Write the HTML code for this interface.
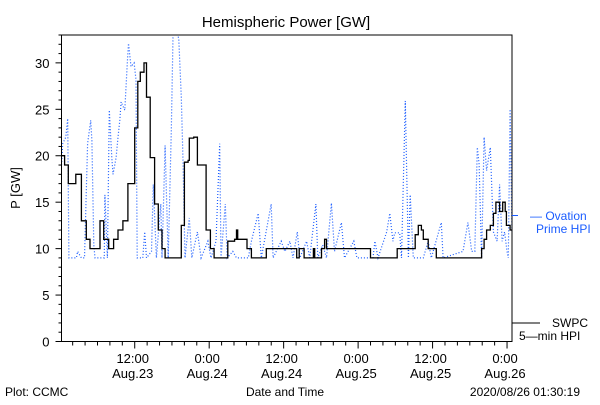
<!DOCTYPE html>
<html><head><meta charset="utf-8"><style>
html,body{margin:0;padding:0;background:#fff;}
svg text{font-family:"Liberation Sans",sans-serif;}
</style></head><body>
<svg id="chart" width="600" height="400" xmlns="http://www.w3.org/2000/svg">
<rect x="0" y="0" width="600" height="400" fill="#fff"/>
<text x="286" y="27" font-size="15" text-anchor="middle">Hemispheric Power [GW]</text>
<text transform="translate(20,188) rotate(-90)" font-size="13" text-anchor="middle">P [GW]</text>
<text x="285" y="396" font-size="12" text-anchor="middle">Date and Time</text>
<text x="5" y="396" font-size="12">Plot: CCMC</text>
<text x="580" y="396" font-size="12" text-anchor="end">2020/08/26 01:30:19</text>
<g id="series"></g>
<g id="axes"></g>
<line x1="512" y1="215.5" x2="518" y2="215.5" stroke="#1a5cff" stroke-width="1"/>
<text x="530" y="220" font-size="12" fill="#1a5cff">— Ovation</text>
<text x="536" y="233" font-size="12" fill="#1a5cff">Prime HPI</text>
<line x1="512" y1="323" x2="540" y2="323" stroke="#000" stroke-width="1"/>
<text x="552" y="327" font-size="12">SWPC</text>
<text x="519" y="340" font-size="12">5—min HPI</text>
</svg>
<script>
const swpcHours=[0.2,0.7,1.3,2.5,2.8,3.4,4.2,4.8,6.1,6.4,7.0,7.8,8.6,9.3,10.1,10.9,12.0,12.5,12.9,13.2,13.5,13.9,14.5,15.2,15.8,16.4,16.9,19.0,19.5,20.0,20.6,20.8,21.5,22.1,22.6,23.5,24.2,24.8,26.8,27.0,28.1,28.4,28.6,29.4,30.1,30.8,32.9,33.2,36.2,37.8,38.1,38.5,39.2,39.3,40.6,40.8,41.0,41.8,42.1,42.6,42.9,49.9,50.0,54.2,54.3,56.9,57.2,57.7,58.2,58.5,59.1,59.3,60.3,60.6,67.6,67.9,68.3,68.7,69.3,69.8,70.2,70.6,70.8,71.3,71.7,71.9,72.5,72.8];
const swpcValues=[20,19,17,18,18,13,11,10,10,13,11,10,11,12,13,17,23,28,29,29,30,26.3,19.8,14.8,12,10,9,9,12.5,19.3,19.5,21.9,22,19,19,12,10,9,9,10.8,11,12,11,11,10,9,9,10,10,10,9,10,10,9,9,10,9,9,10,11,10,10,9,9,10,10,11.5,12.5,12,11,11,10,10,9,9,10,11,12,12.5,13.8,15,15,14,15,14,12.5,12,12];
const ovationHours=[0.2,0.4,0.9,1.2,1.4,2.6,2.8,3.4,3.9,4.4,4.9,5.1,5.4,5.6,7.1,7.2,7.6,7.9,8.3,8.5,9.0,9.3,9.6,9.8,10.4,10.8,11.0,11.4,11.9,12.2,12.4,13.3,13.6,13.9,14.7,15.0,15.5,16.2,16.4,16.9,17.4,17.9,18.2,18.7,19.1,19.5,19.8,20.1,20.8,21.2,22.1,22.7,23.8,24.3,25.1,25.7,25.9,26.6,26.9,27.8,28.4,30.3,30.8,31.9,32.4,34.0,34.3,35.6,36.2,37.0,37.5,38.2,38.6,39.7,40.2,41.2,41.5,42.3,42.9,43.7,44.2,45.3,45.8,47.3,47.8,50.4,50.7,51.2,52.6,53.1,53.6,53.9,54.7,55.0,55.6,56.1,56.4,56.9,58.5,59.3,59.8,61.4,61.7,64.9,65.7,66.3,66.8,67.2,67.5,67.9,68.3,68.7,69.3,69.8,70.4,70.8,71.2,71.6,72.0,72.2,72.5,72.8];
const ovationValues=[19,21.3,22,24,9,9,9.7,9,9,21.3,23.8,21.6,10.4,9,9,15.8,9,24.9,19.8,18,19.8,22,23.8,25.8,24.9,30,32.1,29.6,30,28.2,9,9,11.8,9,9.7,16.9,9,14.8,9,21.1,9,22.7,34,34,32.5,26.3,19.1,9,13.3,9,11.8,9,10.8,9,10.8,21.3,9,14.8,9,9.7,9,9,10.8,13.8,9,14.8,9,10.8,9.7,10.8,9,11.8,9,10.8,9,14.8,9,10.4,9,14.9,9.7,12.8,9,10.8,9,9,10.8,9,11.8,13.8,10.8,11.7,11.7,9,25.9,9,15.8,9,9,10.8,9,12.8,9,9.7,12.8,9.7,9.7,20.9,19.1,9,22,18.4,20.9,11.8,10.8,16.9,10.8,11.8,9.7,9,25,11.8];
const yTickLabels=["0","5","10","15","20","25","30"];
const xTickHours=[12,24,36,48,60,72];
const xTickTimes=["12:00","0:00","12:00","0:00","12:00","0:00"];
const xTickDates=["Aug.23","Aug.24","Aug.24","Aug.25","Aug.25","Aug.26"];

const NS="http://www.w3.org/2000/svg";
const L=61.5,R=512,T=35,B=341.5,XMIN=0.2,XMAX=72.8,YMIN=0,YMAX=33;
function xs(h){return L+(h-XMIN)/(XMAX-XMIN)*(R-L);}
function ys(v){return B-(v-YMIN)/(YMAX-YMIN)*(B-T);}
function mk(tag,attrs,parent){const e=document.createElementNS(NS,tag);for(const k in attrs)e.setAttribute(k,attrs[k]);parent.appendChild(e);return e;}
const series=document.getElementById('series');
const axes=document.getElementById('axes');
const clip=mk('clipPath',{id:'pc'},series);
mk('rect',{x:L,y:T,width:R-L,height:B-T},clip);

// ovation dotted
let pts=ovationHours.map((h,i)=>xs(h).toFixed(1)+','+ys(Math.min(ovationValues[i],YMAX+1)).toFixed(1)).join(' ');
const ov=mk('polyline',{points:pts,fill:'none',stroke:'#1a5cff','stroke-width':1.2,'stroke-dasharray':'1 2','clip-path':'url(#pc)'},series);



// swpc step line
let sp=[];
for(let i=0;i<swpcHours.length;i++){
  if(i>0) sp.push(xs(swpcHours[i]).toFixed(1)+','+ys(swpcValues[i-1]).toFixed(1));
  sp.push(xs(swpcHours[i]).toFixed(1)+','+ys(swpcValues[i]).toFixed(1));
}
const sw=mk('polyline',{points:sp.join(' '),fill:'none',stroke:'#000','stroke-width':1.3,'clip-path':'url(#pc)'},series);



// frame
const fr=mk('rect',{x:L,y:T,width:R-L,height:B-T,fill:'none',stroke:'#000','stroke-width':1},axes);



// y ticks
for(let v=0;v<=YMAX;v++){
  const y=ys(v);const major=v%5===0;
  const t=mk('line',{x1:L-(major?6:3),y1:y,x2:L,y2:y,stroke:'#000'},axes);
  
  
}
yTickLabels.forEach(s=>{
  const tx=mk('text',{x:L-12,y:ys(+s)+5,'font-size':13,'text-anchor':'end'},axes);
  tx.textContent=s;
  
  
});
// x ticks every 2h
for(let h=2;h<=XMAX;h+=2){
  const x=xs(h);const major=h%12===0;
  const t=mk('line',{x1:x,y1:B,x2:x,y2:B+(major?7:4),stroke:'#000'},axes);
  
  
}
xTickHours.forEach((h,i)=>{
  const a=mk('text',{x:xs(h)-2,y:363,'font-size':13,'text-anchor':'middle'},axes);
  a.textContent=xTickTimes[i];
  
  
  const b=mk('text',{x:xs(h)-2,y:378,'font-size':13,'text-anchor':'middle'},axes);
  b.textContent=xTickDates[i];
  
  
});
</script>
</body></html>
